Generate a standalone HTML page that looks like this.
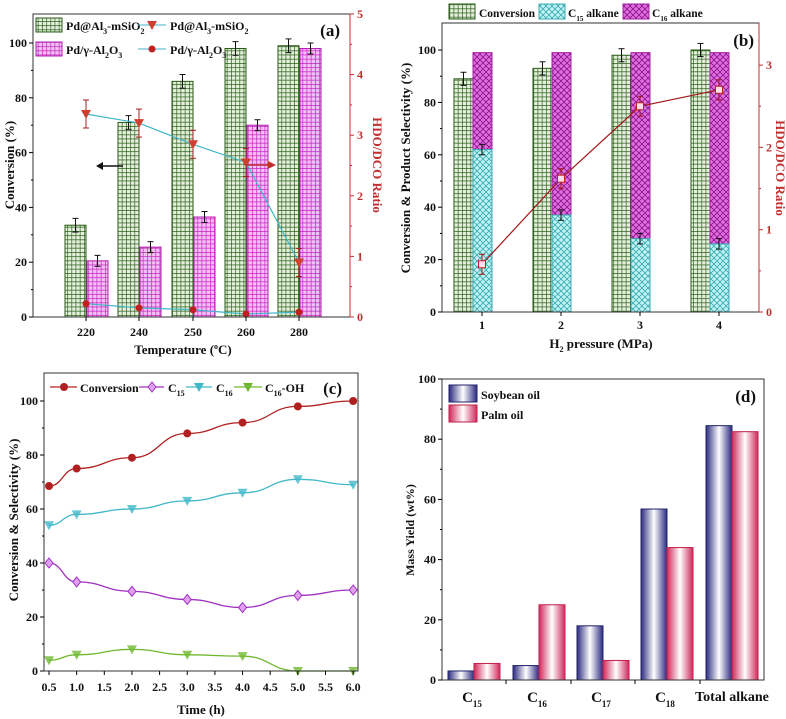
<!DOCTYPE html>
<html><head><meta charset="utf-8"><style>
html,body{margin:0;padding:0;background:#fff}
svg{display:block}
text{font-family:"Liberation Serif",serif;font-weight:bold}
</style></head><body>
<svg id="s" width="786" height="719" viewBox="0 0 786 719" xmlns="http://www.w3.org/2000/svg">
<defs>
<pattern id="pg" width="4.2" height="4.2" patternUnits="userSpaceOnUse"><rect width="4.2" height="4.2" fill="#e4f0dc"/><path d="M0 0H4.2M0 0V4.2" stroke="#275a16" stroke-width="1.3"/></pattern>
<pattern id="pp" width="4.2" height="4.2" patternUnits="userSpaceOnUse"><rect width="4.2" height="4.2" fill="#f4c0f4"/><path d="M0 0H4.2M0 0V4.2" stroke="#c020c0" stroke-width="1.3"/></pattern>
<pattern id="pc" width="6" height="6" patternUnits="userSpaceOnUse"><rect width="6" height="6" fill="#bff4f4"/><path d="M0 0L6 6M6 0L0 6" stroke="#3aa8b0" stroke-width="0.8"/></pattern>
<pattern id="pm" width="6" height="6" patternUnits="userSpaceOnUse"><rect width="6" height="6" fill="#e070e0"/><path d="M0 0L6 6M6 0L0 6" stroke="#8a108a" stroke-width="0.8"/></pattern>
<linearGradient id="gb"><stop offset="0" stop-color="#2a2a80"/><stop offset="0.5" stop-color="#fff"/><stop offset="1" stop-color="#2a2a80"/></linearGradient>
<linearGradient id="gr"><stop offset="0" stop-color="#d0285a"/><stop offset="0.5" stop-color="#fff"/><stop offset="1" stop-color="#d0285a"/></linearGradient>
</defs>
<g id="g"></g>
</svg>
<script>
var G=document.getElementById('g'),h='';
function R(x,y,w,hh,f,s,sw){h+=`<rect x="${x}" y="${y}" width="${w}" height="${hh}" fill="${f}" stroke="${s||'none'}" stroke-width="${sw||1}"/>`}
function L(x1,y1,x2,y2,c,w){h+=`<line x1="${x1}" y1="${y1}" x2="${x2}" y2="${y2}" stroke="${c||'#000'}" stroke-width="${w||1}"/>`}
function T(x,y,t,sz,a,c,extra){h+=`<text x="${x}" y="${y}" font-size="${sz}" text-anchor="${a||'middle'}" fill="${c||'#111'}" ${extra||''}>${t}</text>`}
function P(pts,c,w){h+=`<polyline points="${pts.map(p=>p.join(',')).join(' ')}" fill="none" stroke="${c}" stroke-width="${w||1.2}"/>`}
function E(x,y1,y2,c){L(x,y1,x,y2,c);L(x-3,y1,x+3,y1,c);L(x-3,y2,x+3,y2,c)}
// ===== Panel a =====
(function(){var l=33,r=350,t=14,b=317,yk=2.74,rk=60.6;
var xs=[86,139,193,246,299],gv=[33.5,71,86,98,99],pv=[20.5,25.5,36.5,70,98];
xs.forEach((x,i)=>{R(x-21,b-gv[i]*yk,21,gv[i]*yk,'url(#pg)','#275a16');R(x+1,b-pv[i]*yk,21,pv[i]*yk,'url(#pp)','#b020b0');
E(x-10.5,b-(gv[i]+2.5)*yk,b-(gv[i]-2.5)*yk,'#111');E(x+11.5,b-(pv[i]+2)*yk,b-(pv[i]-2)*yk,'#111');});
var tr=[3.35,3.2,2.85,2.55,0.9],dc=[0.22,0.15,0.12,0.05,0.08];
P(xs.map((x,i)=>[x,b-tr[i]*rk]),'#3fb6c6');P(xs.map((x,i)=>[x,b-dc[i]*rk]),'#3fb6c6');
xs.forEach((x,i)=>{var y=b-tr[i]*rk;E(x,y-14,y+14,'#a02020');h+=`<path d="M${x-5} ${y-4}L${x+5} ${y-4}L${x} ${y+5}Z" fill="#d04030"/>`;
var y2=b-dc[i]*rk;h+=`<circle cx="${x}" cy="${y2}" r="3.5" fill="#c02020"/>`;});
R(l,t,r-l,b-t,'none','#333');L(r,t,r,b,'#c03030');
for(var v=0;v<=100;v+=20){var y=b-v*yk;L(l-4,y,l,y);T(l-6,y+4,v,12,'end');}
for(v=10;v<100;v+=20){L(l-2,b-v*yk,l,b-v*yk)}
for(v=0;v<=5;v++){var y=b-v*rk;L(r,y,r+4,y,'#c03030');T(r+7,y+4,v,12,'start','#c03030');}
for(v=0.5;v<5;v+=1){L(r,b-v*rk,r+2,b-v*rk,'#c03030')}
xs.forEach((x,i)=>{L(x,b,x,b+4);T(x,b+19,[220,240,250,260,280][i],12)});
T(183,354,'Temperature (<tspan font-size="8" dy="-5">o</tspan><tspan dy="5">C)</tspan>',13);
T(14,165,'Conversion (%)',13,'middle','#111','transform="rotate(-90 14 165)"');
T(373,165,'HDO/DCO Ratio',13,'middle','#c03030','transform="rotate(90 373 165)"');
L(98,166,123,166,'#111',1.5);h+='<path d="M96 166L103 162L103 170Z" fill="#111"/>';
L(245,165,268,165,'#c03030',1.5);h+='<path d="M276 165L268 161L268 169Z" fill="#c03030"/>';
R(36,18,26,14,'url(#pg)','#275a16');T(66,30,'Pd@Al<tspan font-size="8" dy="4">3</tspan><tspan dy="-4">-mSiO</tspan><tspan font-size="8" dy="4">2</tspan>',12,'start');
R(36,42,26,14,'url(#pp)','#b020b0');T(66,54,'Pd/γ-Al<tspan font-size="8" dy="4">2</tspan><tspan dy="-4">O</tspan><tspan font-size="8" dy="4">3</tspan>',12,'start');
L(138,25,166,25,'#3fb6c6');h+='<path d="M147 21L157 21L152 30Z" fill="#d04030"/>';T(170,30,'Pd@Al<tspan font-size="8" dy="4">3</tspan><tspan dy="-4">-mSiO</tspan><tspan font-size="8" dy="4">2</tspan>',12,'start');
L(138,49,166,49,'#3fb6c6');h+='<circle cx="152" cy="49" r="3.5" fill="#c02020"/>';T(170,54,'Pd/γ-Al<tspan font-size="8" dy="4">2</tspan><tspan dy="-4">O</tspan><tspan font-size="8" dy="4">3</tspan>',12,'start');
T(340,36,'(a)',17,'end');
})();
// ===== Panel b =====
(function(){var l=442,r=759,t=23,b=312,yk=2.62,rk=82.3;
var xs=[482,561,640,719],gv=[89,93,98,100],cv=[62,37,28,26];
xs.forEach((x,i)=>{R(x-28,b-gv[i]*yk,19,gv[i]*yk,'url(#pg)','#275a16');R(x-9,b-99*yk,19,(99-cv[i])*yk,'url(#pm)','#a020a0');R(x-9,b-cv[i]*yk,19,cv[i]*yk,'url(#pc)','#3aa8b0');
E(x-18.5,b-(gv[i]+2.5)*yk,b-(gv[i]-2.5)*yk,'#111');E(x,b-(cv[i]+2)*yk,b-(cv[i]-2)*yk,'#111');});
var rv=[0.58,1.62,2.5,2.7];P(xs.map((x,i)=>[x,b-rv[i]*rk]),'#a01818');
xs.forEach((x,i)=>{var y=b-rv[i]*rk;E(x,y-10,y+10,'#a01818');R(x-3.5,y-3.5,7,7,'#fde','#c02020');});
R(l,t,r-l,b-t,'none','#333');L(r,t,r,b,'#c03030');
for(var v=0;v<=100;v+=20){var y=b-v*yk;L(l-4,y,l,y);T(l-6,y+4,v,12,'end');}
for(v=10;v<100;v+=20){L(l-2,b-v*yk,l,b-v*yk)}
for(v=0;v<=3;v++){var y=b-v*rk;L(r,y,r+4,y,'#c03030');T(r+7,y+4,v,12,'start','#c03030');}
for(v=0.5;v<3.5;v+=1){L(r,b-v*rk,r+2,b-v*rk,'#c03030')}
xs.forEach((x,i)=>{L(x,b,x,b+4);T(x,b+17,i+1,12)});
T(601,348,'H<tspan font-size="8" dy="4">2</tspan><tspan dy="-4"> pressure (MPa)</tspan>',13);
T(410,168,'Conversion &amp; Product Selectivity (%)',13,'middle','#111','transform="rotate(-90 410 168)"');
T(776,168,'HDO/DCO Ratio',13,'middle','#c03030','transform="rotate(90 776 168)"');
R(449,4,26,15,'url(#pg)','#275a16');T(479,17,'Conversion',11.5,'start','#111','textLength="56"');
R(539,4,26,15,'url(#pc)','#3aa8b0');T(568,17,'C<tspan font-size="7" dy="4">15</tspan><tspan dy="-4"> alkane</tspan>',11.5,'start');
R(623,4,26,15,'url(#pm)','#a020a0');T(652,17,'C<tspan font-size="7" dy="4">16</tspan><tspan dy="-4"> alkane</tspan>',11.5,'start');
T(754,46,'(b)',17,'end');
})();
// ===== Panel c =====
(function(){var l=44,r=358,t=373,b=671,yk=2.7;
function X(v){return 49+(v-0.5)*55.3}
var tx=[0.5,1,2,3,4,5,6];
var S=[[[68.5,75,79,88,92,98,100],'#b02020','c'],[[40,33,29.5,26.5,23.5,28,30],'#a030c0','d'],[[54,58,60,63,66,71,69],'#40b8c8','t'],[[4,6,8,6,5.5,0,0],'#70b830','t']];
S.forEach(s=>{var pts=tx.map((x,i)=>[X(x),b-s[0][i]*yk]);
var d='M'+pts[0];for(var i=1;i<pts.length;i++){var p0=pts[i-1],p1=pts[i];var mx=(p0[0]+p1[0])/2;d+=` C${mx},${p0[1]} ${mx},${p1[1]} ${p1[0]},${p1[1]}`}
h+=`<path d="${d}" fill="none" stroke="${s[1]}" stroke-width="1.3"/>`;
pts.forEach(p=>{if(s[2]=='c')h+=`<circle cx="${p[0]}" cy="${p[1]}" r="4" fill="${s[1]}"/>`;else if(s[2]=='d')h+=`<path d="M${p[0]} ${p[1]-5}L${p[0]+4} ${p[1]}L${p[0]} ${p[1]+5}L${p[0]-4} ${p[1]}Z" fill="#e0a0f0" stroke="${s[1]}"/>`;else h+=`<path d="M${p[0]-5} ${p[1]-4}L${p[0]+5} ${p[1]-4}L${p[0]} ${p[1]+5}Z" fill="${s[1]}" opacity="0.8"/>`;});});
R(l,t,r-l,b-t,'none','#333');
for(var v=0;v<=100;v+=20){var y=b-v*yk;L(l-4,y,l,y);T(l-6,y+4,v,12,'end');}
for(v=10;v<100;v+=20){L(l-2,b-v*yk,l,b-v*yk)}
for(v=0.5;v<=6.01;v+=0.5){L(X(v),b,X(v),b+4);T(X(v),b+20,v.toFixed(1),12)}
T(201,714,'Time (h)',13);
T(18,520,'Conversion &amp; Selectivity (%)',13,'middle','#111','transform="rotate(-90 18 520)"');
var ly=387;
L(50,ly,77,ly,'#b02020',1.3);h+=`<circle cx="64" cy="${ly}" r="4" fill="#b02020"/>`;T(80,ly+5,'Conversion',12,'start');
L(139,ly,164,ly,'#a030c0',1.3);h+=`<path d="M152 ${ly-5}L156 ${ly}L152 ${ly+5}L148 ${ly}Z" fill="#e0a0f0" stroke="#a030c0"/>`;T(168,ly+5,'C<tspan font-size="8" dy="4">15</tspan>',12,'start');
L(186,ly,212,ly,'#40b8c8',1.3);h+=`<path d="M194 ${ly-4}L204 ${ly-4}L199 ${ly+5}Z" fill="#40b8c8"/>`;T(216,ly+5,'C<tspan font-size="8" dy="4">16</tspan>',12,'start');
L(234,ly,262,ly,'#70b830',1.3);h+=`<path d="M243 ${ly-4}L253 ${ly-4}L248 ${ly+5}Z" fill="#70b830"/>`;T(265,ly+5,'C<tspan font-size="8" dy="4">16</tspan><tspan dy="-4">-OH</tspan>',12,'start');
T(342,394,'(c)',17,'end');
})();
// ===== Panel d =====
(function(){var l=442,r=764,t=379,b=680,yk=3.01;
var xs=[474,539,603,667,732],bv=[3,4.8,18,56.8,84.5],pv=[5.5,25,6.5,44,82.5];
xs.forEach((x,i)=>{R(x-26,b-bv[i]*yk,26,bv[i]*yk,'url(#gb)','#22226a');R(x,b-pv[i]*yk,26,pv[i]*yk,'url(#gr)','#c0204a');});
R(l,t,r-l,b-t,'none','#333');
for(var v=0;v<=100;v+=20){var y=b-v*yk;L(l-4,y,l,y);T(l-6,y+4,v,12,'end');}
for(v=10;v<100;v+=20){L(l-2,b-v*yk,l,b-v*yk)}
[506,571,635,700].forEach(x=>L(x,b,x,b+4));
['15','16','17','18'].forEach((s,i)=>T(xs[i]-2,b+22,'C<tspan font-size="9" dy="5">'+s+'</tspan>',15));
T(732,b+21,'Total alkane',14);
T(414,530,'Mass Yield (wt%)',12,'middle','#111','transform="rotate(-90 414 530)"');
R(449,385,28,17,'url(#gb)','#22226a');T(481,399,'Soybean oil',12,'start');
R(449,405,28,17,'url(#gr)','#c0204a');T(481,419,'Palm oil',12,'start');
T(756,402,'(d)',17,'end');
})();
G.innerHTML=h;
</script>
</body></html>
